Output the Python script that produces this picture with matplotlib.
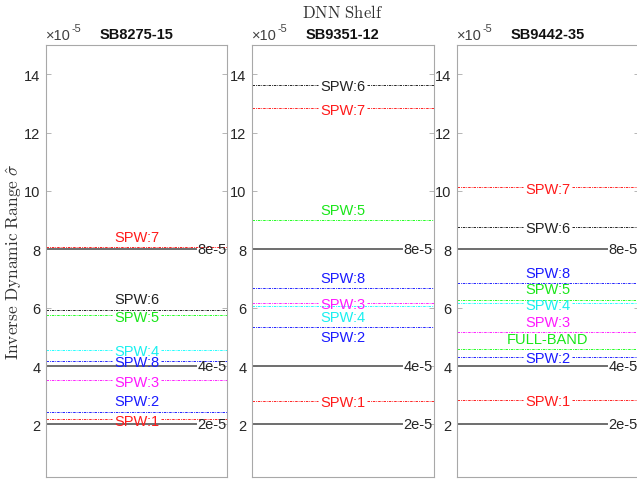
import matplotlib
matplotlib.use("Agg")
import matplotlib.pyplot as plt

plt.rcParams['font.family'] = ['Liberation Sans', 'DejaVu Sans']
plt.rcParams['mathtext.fontset'] = 'cm'

# ---- data (values in units of 1e-5) ----
panel_titles = ["SB8275-15", "SB9351-12", "SB9442-35"]

p1_labels = ["SPW:7", "SPW:6", "SPW:5", "SPW:4", "SPW:8", "SPW:3", "SPW:2", "SPW:1"]
p1_values = [8.07, 5.93, 5.75, 4.56, 4.18, 3.52, 2.43, 2.17]
p1_colors = ["r", "k", "g", "c", "b", "m", "b", "r"]
p1_align = ["above", "above", "middle", "middle", "middle", "middle", "above", "middle"]

p2_labels = ["SPW:6", "SPW:7", "SPW:5", "SPW:8", "SPW:3", "SPW:4", "SPW:2", "SPW:1"]
p2_values = [13.64, 12.83, 8.99, 6.66, 6.17, 6.05, 5.34, 2.81]
p2_colors = ["k", "r", "g", "b", "m", "c", "b", "r"]
p2_align = ["middle", "middle", "above", "above", "middle", "below", "below", "middle"]

p3_labels = ["SPW:7", "SPW:6", "SPW:8", "SPW:5", "SPW:4", "SPW:3", "FULL-BAND", "SPW:2", "SPW:1"]
p3_values = [10.12, 8.78, 6.84, 6.27, 6.15, 5.17, 4.58, 4.32, 2.85]
p3_colors = ["r", "k", "b", "g", "c", "m", "g", "b", "r"]
p3_align = ["middle", "middle", "above", "above", "middle", "above", "above", "middle", "middle"]

ref_values = [2, 4, 8]
ref_labels = ["2e-5", "4e-5", "8e-5"]

yticks = [2, 4, 6, 8, 10, 12, 14]
ylim = (0.2, 15.0)

color_map = {"r": "#ff0000", "g": "#00ff00", "b": "#0000ff", "c": "#00ffff",
             "m": "#ff00ff", "k": "#000000"}
text_color_map = {"r": "#ff1a1a", "g": "#19e619", "b": "#1a1aff", "c": "#19f0f0",
                  "m": "#ff19ff", "k": "#222222"}

panels = [
    (p1_labels, p1_values, p1_colors, p1_align),
    (p2_labels, p2_values, p2_colors, p2_align),
    (p3_labels, p3_values, p3_colors, p3_align),
]

fig = plt.figure(figsize=(6.37, 4.81), dpi=100)
W, H = 637.0, 481.0
lefts = [46, 252, 457]
width = 181.5
top_px, bot_px = 46, 478
FS = 10.5
DASH = (3, 1.2, 1, 1.2)

axes = []
for i, left in enumerate(lefts):
    ax = fig.add_axes([left / W, (H - bot_px) / H, width / W, (bot_px - top_px) / H])
    ax.set_xlim(0, 1)
    ax.set_ylim(*ylim)
    ax.set_xticks([])
    ax.set_yticks(yticks)
    ax.tick_params(axis='y', direction='in', left=True, right=True, length=3.5,
                   width=0.6, colors='#aaaaaa', labelcolor='#262626', labelsize=FS, pad=4)
    for s in ax.spines.values():
        s.set_color('#a8a8a8')
        s.set_linewidth(0.8)
    ax.set_title(panel_titles[i], fontsize=FS, fontweight='bold', pad=5, color='#111111')
    axes.append(ax)

fig.canvas.draw()
renderer = fig.canvas.get_renderer()

# x10^-5 multiplier labels
for ax in axes:
    t = ax.text(0.0, 1.006, '×10', transform=ax.transAxes, ha='left', va='bottom',
                fontsize=FS, color='#404040')
    fig.canvas.draw()
    bb = t.get_window_extent(renderer)
    inv = ax.transAxes.inverted()
    xr, ytop = inv.transform((bb.x1 + 0.5, bb.y1 - 5))
    ax.text(xr, ytop, '-5', transform=ax.transAxes, ha='left', va='bottom',
            fontsize=FS * 0.75, color='#404040')


def broken_line(ax, y, txt, color, lw, gap_px=2, dashes=None):
    fig.canvas.draw()
    bb = txt.get_window_extent(renderer)
    inv = ax.transAxes.inverted()
    x0 = inv.transform((bb.x0 - gap_px, bb.y0))[0]
    x1 = inv.transform((bb.x1 + gap_px, bb.y0))[0]
    kw = dict(color=color, lw=lw)
    if dashes is not None:
        kw['dashes'] = dashes
    if x0 > 0:
        ax.axhline(y, xmin=0, xmax=max(0, x0), **kw)
    if x1 < 1:
        ax.axhline(y, xmin=min(1, x1), xmax=1, **kw)


for ax, (labels, values, colors, aligns) in zip(axes, panels):
    # reference lines
    for v, lab in zip(ref_values, ref_labels):
        t = ax.text(0.995, v, lab, ha='right', va='center', fontsize=FS, color='#262626',
                    transform=ax.get_yaxis_transform())
        broken_line(ax, v, t, '#6e6e6e', 1.4, gap_px=1)
    for lab, v, c, al in zip(labels, values, colors, aligns):
        lc = color_map[c]
        tc = text_color_map[c]
        if al == 'middle':
            t = ax.text(0.5, v, lab, ha='center', va='center_baseline', fontsize=FS, color=tc,
                        transform=ax.get_yaxis_transform())
            broken_line(ax, v, t, lc, 0.6, gap_px=2, dashes=DASH)
        else:
            off = 7.5 if al == 'above' else -7.5
            ax.annotate(lab, xy=(0.5, v), xycoords=ax.get_yaxis_transform(),
                        xytext=(0, off), textcoords='offset points',
                        ha='center', va='center', fontsize=FS, color=tc)
            ax.axhline(v, color=lc, lw=0.6, dashes=DASH)

axes[0].set_ylabel(r'$\mathrm{Inverse\ Dynamic\ Range}\ \hat{\sigma}$', fontsize=12.5,
                   color='#333333')
axes[0].yaxis.set_label_coords(-22 / width, 0.5)
fig.text((252 + width / 2) / W, 1 - 12 / H, r'$\mathrm{DNN\ Shelf}$', ha='center', va='center',
         fontsize=12, color='#333333')

fig.savefig('out.png', dpi=100)
